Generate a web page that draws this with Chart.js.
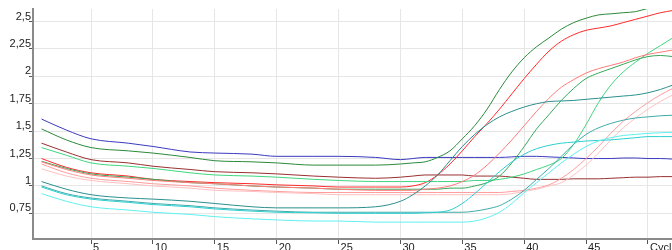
<!DOCTYPE html>
<html>
<head>
<meta charset="utf-8">
<script src="https://cdn.jsdelivr.net/npm/chart.js@4.4.0/dist/chart.umd.min.js"></script>
<style>
  html, body { margin: 0; padding: 0; background: #fff; }
  #wrap { width: 672px; height: 250px; }
</style>
</head>
<body>
<div id="wrap"><canvas id="pcrChart" width="672" height="250"></canvas></div>
<script>
'use strict';

/* ── data ─────────────────────────────────────────────── */
const CYCLES = [1, 3, 5, 8, 10, 13, 15, 18, 20, 23, 25, 28, 30, 31, 32, 33, 34, 35,
                36, 37, 38, 39, 40, 41, 42, 43, 44, 45, 46, 47, 48, 49, 50, 51, 52];

const X_TICKS = [5, 10, 15, 20, 25, 30, 35, 40, 45, 50];
const Y_TICKS = [0.75, 1, 1.25, 1.5, 1.75, 2, 2.25, 2.5];

const BLUE       = [1.61, 1.51, 1.43, 1.39, 1.36, 1.31, 1.30, 1.29, 1.27, 1.27, 1.27, 1.26, 1.24, 1.25, 1.26, 1.26, 1.26, 1.26,
                    1.26, 1.26, 1.26, 1.265, 1.27, 1.27, 1.265, 1.26, 1.255, 1.25, 1.25, 1.25, 1.255, 1.255, 1.25, 1.25, 1.245];
const DARK_GREEN = [1.52, 1.42, 1.35, 1.32, 1.30, 1.26, 1.23, 1.22, 1.21, 1.19, 1.19, 1.19, 1.20, 1.21, 1.22, 1.26, 1.32, 1.43,
                    1.55, 1.70, 1.88, 2.04, 2.17, 2.27, 2.35, 2.43, 2.49, 2.53, 2.56, 2.57, 2.58, 2.59, 2.62, 2.64, 2.66];
const RED        = [1.25, 1.17, 1.12, 1.09, 1.06, 1.04, 1.03, 1.02, 1.01, 1.00, 0.99, 0.99, 0.99, 1.00, 1.03, 1.10, 1.20, 1.32,
                    1.45, 1.57, 1.70, 1.84, 1.98, 2.11, 2.23, 2.32, 2.38, 2.42, 2.44, 2.46, 2.49, 2.52, 2.55, 2.58, 2.60];
const BROWN      = [1.39, 1.31, 1.24, 1.21, 1.18, 1.15, 1.13, 1.12, 1.11, 1.09, 1.08, 1.07, 1.08, 1.09, 1.10, 1.10, 1.10, 1.10,
                    1.09, 1.09, 1.09, 1.08, 1.07, 1.06, 1.06, 1.06, 1.065, 1.065, 1.065, 1.07, 1.075, 1.08, 1.08, 1.085, 1.085];
const LIGHT_GREEN = [1.35, 1.28, 1.21, 1.18, 1.16, 1.12, 1.10, 1.09, 1.08, 1.06, 1.05, 1.04, 1.04, 1.04, 1.04, 1.04, 1.04, 1.04,
                    1.05, 1.05, 1.06, 1.08, 1.11, 1.15, 1.19, 1.25, 1.38, 1.56, 1.76, 1.92, 2.04, 2.13, 2.21, 2.28, 2.35];
const MID_GREEN  = [1.225, 1.16, 1.11, 1.08, 1.06, 1.03, 1.02, 1.00, 0.99, 0.98, 0.97, 0.97, 0.97, 0.97, 0.97, 0.97, 0.98, 0.98,
                    1.00, 1.03, 1.09, 1.21, 1.36, 1.52, 1.65, 1.78, 1.89, 1.98, 2.03, 2.07, 2.11, 2.15, 2.18, 2.19, 2.18];
const SALMON     = [1.22, 1.15, 1.10, 1.07, 1.05, 1.03, 1.02, 1.00, 0.99, 0.98, 0.97, 0.96, 0.96, 0.96, 0.97, 0.98, 1.00, 1.04,
                    1.10, 1.19, 1.30, 1.42, 1.55, 1.68, 1.80, 1.90, 1.97, 2.03, 2.07, 2.10, 2.13, 2.17, 2.20, 2.22, 2.24];
const PINK       = [1.20, 1.12, 1.07, 1.04, 1.02, 1.00, 0.98, 0.96, 0.95, 0.94, 0.94, 0.94, 0.94, 0.94, 0.94, 0.94, 0.94, 0.94,
                    0.94, 0.94, 0.94, 0.95, 0.96, 0.98, 1.01, 1.07, 1.15, 1.25, 1.36, 1.48, 1.59, 1.68, 1.76, 1.83, 1.89];
const LIGHT_PINK = [1.156, 1.09, 1.05, 1.02, 1.00, 0.98, 0.96, 0.95, 0.94, 0.93, 0.92, 0.92, 0.92, 0.92, 0.92, 0.92, 0.92, 0.92,
                    0.92, 0.92, 0.92, 0.93, 0.95, 0.97, 1.00, 1.03, 1.10, 1.19, 1.30, 1.42, 1.53, 1.62, 1.70, 1.77, 1.83];
const DARK_TEAL  = [1.04, 0.97, 0.92, 0.89, 0.88, 0.86, 0.84, 0.81, 0.80, 0.80, 0.80, 0.81, 0.86, 0.92, 1.00, 1.10, 1.23, 1.36,
                    1.47, 1.56, 1.63, 1.68, 1.72, 1.75, 1.77, 1.775, 1.78, 1.79, 1.80, 1.81, 1.82, 1.83, 1.85, 1.88, 1.92];
const MID_TEAL   = [1.00, 0.93, 0.89, 0.86, 0.84, 0.82, 0.80, 0.78, 0.77, 0.76, 0.76, 0.76, 0.76, 0.76, 0.76, 0.76, 0.76, 0.76,
                    0.77, 0.79, 0.82, 0.88, 0.96, 1.06, 1.16, 1.27, 1.38, 1.47, 1.53, 1.57, 1.60, 1.62, 1.63, 1.64, 1.645];
const CYAN       = [0.99, 0.92, 0.88, 0.85, 0.83, 0.81, 0.79, 0.77, 0.76, 0.755, 0.75, 0.75, 0.75, 0.75, 0.755, 0.76, 0.78, 0.84,
                    0.93, 1.03, 1.13, 1.22, 1.29, 1.34, 1.37, 1.39, 1.40, 1.41, 1.415, 1.42, 1.43, 1.44, 1.45, 1.45, 1.45];
const LIGHT_CYAN = [0.93, 0.86, 0.81, 0.78, 0.76, 0.74, 0.72, 0.70, 0.69, 0.68, 0.68, 0.67, 0.67, 0.67, 0.67, 0.67, 0.67, 0.67,
                    0.68, 0.71, 0.76, 0.84, 0.94, 1.03, 1.12, 1.21, 1.29, 1.36, 1.41, 1.44, 1.46, 1.47, 1.48, 1.485, 1.49];

const SERIES = [
  { name: 'light cyan',  values: LIGHT_CYAN,  color: '#5ff0f0' },
  { name: 'cyan',        values: CYAN,        color: '#2ccfcf' },
  { name: 'mid teal',    values: MID_TEAL,    color: '#3eaaaa' },
  { name: 'dark teal',   values: DARK_TEAL,   color: '#2a8f8f' },
  { name: 'light pink',  values: LIGHT_PINK,  color: '#ffc0c0' },
  { name: 'pink',        values: PINK,        color: '#ff9c9c' },
  { name: 'salmon',      values: SALMON,      color: '#ff7a7a' },
  { name: 'mid green',   values: MID_GREEN,   color: '#35a85a' },
  { name: 'light green', values: LIGHT_GREEN, color: '#3ed67e' },
  { name: 'brown',       values: BROWN,       color: '#983030' },
  { name: 'red',         values: RED,         color: '#ff2a2a' },
  { name: 'dark green',  values: DARK_GREEN,  color: '#2a8a3a' },
  { name: 'blue',        values: BLUE,        color: '#3a3ac0' },
];

/* ── chart ────────────────────────────────────────────── */
const FONT = { family: "'Liberation Sans', Arial, sans-serif", size: 11 };

function fmtComma(v) {
  return String(v).replace('.', ',');
}

new Chart(document.getElementById('pcrChart'), {
  type: 'line',
  data: {
    datasets: SERIES.map(s => ({
      label          : s.name,
      data           : CYCLES.map((c, i) => ({ x: c, y: s.values[i] })),
      borderColor    : s.color,
      borderWidth    : 1,
      pointRadius    : 0,
      fill           : false,
      cubicInterpolationMode: 'monotone',
    })),
  },
  options: {
    responsive: false,
    animation : false,
    devicePixelRatio: 1,
    layout: { padding: { top: 9, left: 0, right: 0, bottom: 0 } },
    plugins: {
      legend : { display: false },
      tooltip: { enabled: false },
    },
    scales: {
      x: {
        type: 'linear',
        min : 0.31,
        max : 51.94,
        afterBuildTicks: (s) => { s.ticks = X_TICKS.map(v => ({ value: v })); },
        afterFit: (s) => { s.height = 11; s.paddingLeft = 0; s.paddingRight = 0; },
        grid  : { color: '#e6e6e6', tickColor: '#555', tickLength: 5 },
        border: { color: '#8a8a8a', width: 2 },
        ticks : {
          align      : 'start',
          labelOffset: 2,
          padding    : -3,
          maxRotation: 0,
          autoSkip   : false,
          font       : FONT,
          color      : '#222',
          callback   : (v) => (v === 50 ? 'Cycle' : String(v)),
        },
      },
      y: {
        min: 0.516,
        max: 2.614,
        afterBuildTicks: (s) => { s.ticks = Y_TICKS.map(v => ({ value: v })); },
        afterFit: (s) => { s.width = 33; s.paddingTop = 0; s.paddingBottom = 0; },
        grid  : { color: '#e6e6e6', tickColor: '#555', tickLength: 4 },
        border: { color: '#8a8a8a', width: 2 },
        ticks : {
          padding    : -2,
          labelOffset: -5,
          font       : FONT,
          color      : '#222',
          callback   : (v) => fmtComma(v),
        },
      },
    },
  },
});
</script>
</body>
</html>
